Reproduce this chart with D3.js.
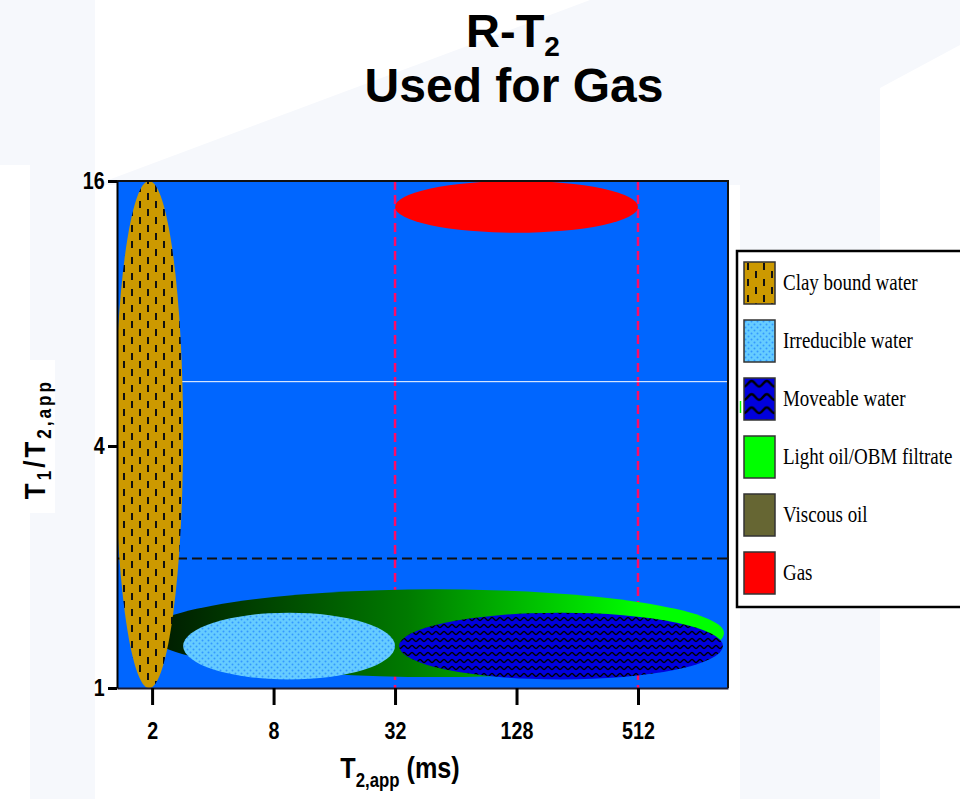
<!DOCTYPE html>
<html>
<head>
<meta charset="utf-8">
<script src="https://cdn.jsdelivr.net/npm/d3@7"></script>
<style>
  html, body { margin: 0; padding: 0; background: #ffffff; }
  svg { display: block; }
  text { font-family: "Liberation Sans", Arial, sans-serif; }
</style>
</head>
<body>
<svg id="chart" width="960" height="799"></svg>
<script>
// T2 apparent (ms) axis ticks and T1/T2 ratio ticks
const t2Ticks = [2, 8, 32, 128, 512];
const ratioTicks = [1, 4, 16];

// Fluid classes with their extents in the (T2,app, T1/T2,app) plane
const classes = ["Clay bound water", "Irreducible water", "Moveable water", "Light oil/OBM filtrate", "Viscous oil", "Gas"];
const t2Low = [1.31, 2.85, 33.5, 1.91, null, 32];
const t2High = [2.85, 32, 1350, 1365, null, 512];
const ratioLow = [1, 1.05, 1.05, 1.065, null, 12.2];
const ratioHigh = [16, 1.54, 1.54, 1.76, null, 16];
const drawOrder = [3, 1, 2, 5, 0];

// Reference lines
const t2Guides = [32, 512];
const ratioDashed = [2.1];
const ratioSolid = [5.6];

const svg = d3.select("#chart");
const plot = { left: 117, right: 728, top: 181, bottom: 688 };

const x = d3.scaleLog().base(2).domain([1.34, 1430]).range([plot.left, plot.right]);
const y = d3.scaleLog().base(2).domain([1, 4, 16]).range([plot.bottom, 446, plot.top]);

// ---------- page backdrop ----------
const tint = "#f6f8fc";
const backdrop = [
  [[0, 0], [95, 0], [95, 799], [30, 799], [30, 165], [0, 165]],
  [[95, 185], [590, 0], [960, 0], [960, 45], [880, 88], [880, 799], [740, 799], [740, 185]],
];
svg.selectAll("polygon.bg").data(backdrop).join("polygon")
  .attr("class", "bg")
  .attr("points", d => d.map(p => p.join(",")).join(" "))
  .attr("fill", tint);
svg.append("rect").attr("x", 28).attr("y", 360).attr("width", 27).attr("height", 153).attr("fill", "#ffffff");

// ---------- fills ----------
const defs = svg.append("defs");

const clay = defs.append("pattern").attr("id", "clay").attr("patternUnits", "userSpaceOnUse")
  .attr("width", 16).attr("height", 16);
clay.append("rect").attr("width", 16).attr("height", 16).attr("fill", "#cc9900");
clay.append("rect").attr("x", 3).attr("y", 1).attr("width", 2).attr("height", 7).attr("fill", "#111");
clay.append("rect").attr("x", 11).attr("y", 9).attr("width", 2).attr("height", 7).attr("fill", "#111");

const irr = defs.append("pattern").attr("id", "irr").attr("patternUnits", "userSpaceOnUse")
  .attr("width", 6).attr("height", 6);
irr.append("rect").attr("width", 6).attr("height", 6).attr("fill", "#66ccff");
irr.append("circle").attr("cx", 1.5).attr("cy", 1.5).attr("r", 1).attr("fill", "#3399ff");
irr.append("circle").attr("cx", 4.5).attr("cy", 4.5).attr("r", 1).attr("fill", "#3399ff");

function wavePattern(id, scale) {
  const p = defs.append("pattern").attr("id", id).attr("patternUnits", "userSpaceOnUse")
    .attr("width", 8).attr("height", 7);
  if (scale !== 1) p.attr("patternTransform", `scale(${scale})`);
  p.append("rect").attr("width", 8).attr("height", 7).attr("fill", "#0000dd");
  p.append("path").attr("d", "M0,4.5 C1.5,4.5 2.5,1.5 4,1.5 C5.5,1.5 6.5,4.5 8,4.5")
    .attr("fill", "none").attr("stroke", "#000").attr("stroke-width", 1.3);
}
wavePattern("move", 1);
wavePattern("moveBig", 1.9);

const grad = defs.append("linearGradient").attr("id", "oil")
  .attr("x1", "0").attr("x2", "1").attr("y1", "0").attr("y2", "0");
[[0, "#001800"], [0.45, "#007a00"], [0.86, "#00ff00"], [1, "#00ff00"]].forEach(([o, c]) =>
  grad.append("stop").attr("offset", o).attr("stop-color", c));

defs.append("clipPath").attr("id", "plotClip").append("rect")
  .attr("x", plot.left).attr("y", plot.top)
  .attr("width", plot.right - plot.left).attr("height", plot.bottom - plot.top);

const areaFill = ["url(#clay)", "url(#irr)", "url(#move)", "url(#oil)", "#666633", "#ff0000"];
const keyFill = ["url(#clay)", "url(#irr)", "url(#moveBig)", "#00ff00", "#666633", "#ff0000"];

// ---------- plot area ----------
svg.append("rect")
  .attr("x", plot.left).attr("y", plot.top)
  .attr("width", plot.right - plot.left).attr("height", plot.bottom - plot.top)
  .attr("fill", "#0066ff");

const g = svg.append("g").attr("clip-path", "url(#plotClip)");

g.selectAll("line.t2guide").data(t2Guides).join("line")
  .attr("class", "t2guide")
  .attr("x1", d => x(d)).attr("x2", d => x(d))
  .attr("y1", plot.top).attr("y2", plot.bottom)
  .attr("stroke", "#ff0a66").attr("stroke-width", 2.5).attr("stroke-dasharray", "9,5");

g.selectAll("line.rsolid").data(ratioSolid).join("line")
  .attr("class", "rsolid")
  .attr("x1", plot.left).attr("x2", plot.right)
  .attr("y1", d => y(d)).attr("y2", d => y(d))
  .attr("stroke", "#ffffff").attr("stroke-width", 1);

g.selectAll("line.rdash").data(ratioDashed).join("line")
  .attr("class", "rdash")
  .attr("x1", plot.left).attr("x2", plot.right)
  .attr("y1", d => y(d)).attr("y2", d => y(d))
  .attr("stroke", "#111").attr("stroke-width", 2).attr("stroke-dasharray", "10,5");

g.selectAll("ellipse.zone").data(drawOrder).join("ellipse")
  .attr("class", "zone")
  .attr("cx", i => (x(t2Low[i]) + x(t2High[i])) / 2)
  .attr("cy", i => (y(ratioLow[i]) + y(ratioHigh[i])) / 2)
  .attr("rx", i => (x(t2High[i]) - x(t2Low[i])) / 2)
  .attr("ry", i => (y(ratioLow[i]) - y(ratioHigh[i])) / 2)
  .attr("fill", i => areaFill[i]);

// frame: top and right edges
svg.append("path")
  .attr("d", `M${plot.left},${plot.top}H${plot.right}V${plot.bottom}`)
  .attr("fill", "none").attr("stroke", "#111").attr("stroke-width", 2);

// ---------- axes ----------
const xAxis = svg.append("g").attr("transform", `translate(0,${plot.bottom})`)
  .call(d3.axisBottom(x).tickValues(t2Ticks).tickFormat(d3.format("d"))
    .tickSize(17).tickSizeOuter(0).tickPadding(17));
xAxis.select(".domain").attr("stroke", "#1a1a33").attr("stroke-width", 2);
xAxis.selectAll(".tick line").attr("stroke", "#000").attr("stroke-width", 3);
xAxis.selectAll(".tick text").attr("fill", "#000")
  .attr("transform", "scale(0.82,1)")
  .style("font-size", "24px").style("font-weight", "bold")
  .style("font-family", "'Liberation Sans', Arial, sans-serif");

const yAxis = svg.append("g").attr("transform", `translate(${plot.left},0)`)
  .call(d3.axisLeft(y).tickValues(ratioTicks).tickFormat(d3.format("d"))
    .tickSize(9).tickSizeOuter(0).tickPadding(6));
yAxis.select(".domain").attr("stroke", "#000").attr("stroke-width", 2);
yAxis.selectAll(".tick line").attr("stroke", "#000").attr("stroke-width", 3);
yAxis.selectAll(".tick text").attr("fill", "#000")
  .attr("transform", "scale(0.82,1)")
  .style("font-size", "24px").style("font-weight", "bold")
  .style("font-family", "'Liberation Sans', Arial, sans-serif");

// axis titles
const xt = svg.append("text")
  .attr("transform", "translate(400,778) scale(0.84,1)")
  .attr("text-anchor", "middle")
  .style("font-size", "30px").style("font-weight", "bold");
xt.append("tspan").text("T");
xt.append("tspan").attr("dy", 9).style("font-size", "20px").text("2,app");
xt.append("tspan").attr("dy", -9).text(" (ms)");

const yt = svg.append("text")
  .attr("transform", "translate(45,439) rotate(-90) scale(0.86,1)")
  .attr("text-anchor", "middle")
  .style("font-size", "30px").style("font-weight", "bold").style("letter-spacing", "3.5px");
yt.append("tspan").text("T");
yt.append("tspan").attr("dy", 6).style("font-size", "20px").text("1");
yt.append("tspan").attr("dy", -6).text("/T");
yt.append("tspan").attr("dy", 6).style("font-size", "20px").text("2,app");

// ---------- title ----------
const t1 = svg.append("text").attr("x", 513).attr("y", 47).attr("text-anchor", "middle")
  .style("font-size", "47px").style("font-weight", "bold");
t1.append("tspan").text("R-T");
t1.append("tspan").attr("dy", 9).style("font-size", "28px").text("2");
svg.append("text").attr("x", 514).attr("y", 102).attr("text-anchor", "middle")
  .style("font-size", "48px").style("font-weight", "bold").text("Used for Gas");

// ---------- legend ----------
const legend = svg.append("g");
legend.append("rect").attr("x", 737).attr("y", 251).attr("width", 240).attr("height", 356)
  .attr("fill", "#ffffff").attr("stroke", "#000").attr("stroke-width", 2.5);
const items = legend.selectAll("g.item").data(classes).join("g")
  .attr("class", "item")
  .attr("transform", (d, i) => `translate(744,${262 + i * 58})`);
items.append("rect").attr("width", 31).attr("height", 42)
  .attr("fill", (d, i) => keyFill[i]).attr("stroke", "#333").attr("stroke-width", 1.5);
items.append("text")
  .attr("transform", "translate(39,28) scale(0.79,1)")
  .style("font-family", "'Liberation Serif', 'Times New Roman', serif")
  .style("font-size", "24px").attr("fill", "#000")
  .text(d => d);

// small green mark beside the legend
svg.append("line").attr("x1", 740.5).attr("x2", 740.5).attr("y1", 401).attr("y2", 413)
  .attr("stroke", "#00ff00").attr("stroke-width", 1.5);
</script>
</body>
</html>
